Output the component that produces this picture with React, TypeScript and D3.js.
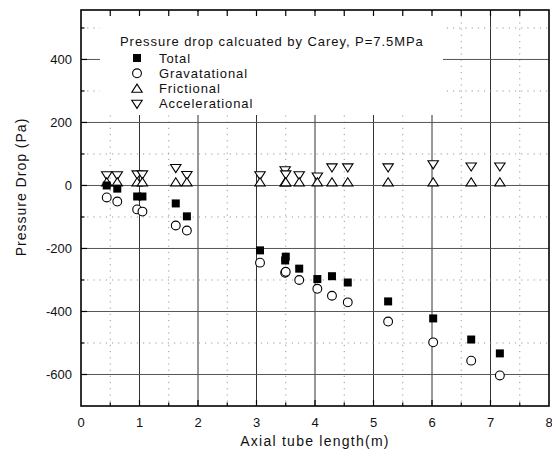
import React from 'react';
import * as d3 from 'd3';

const lengths = [0.44, 0.62, 0.96, 1.05, 1.62, 1.81, 3.06, 3.49, 3.5, 3.73, 4.04, 4.29, 4.56, 5.25, 6.02, 6.67, 7.16];
const total = [0, -10, -35, -35, -57, -98, -206, -238, -226, -264, -297, -288, -308, -368, -422, -489, -533];
const gravitational = [-38, -51, -76, -83, -127, -143, -245, -277, -274, -300, -328, -350, -371, -432, -498, -556, -603];
const frictional = [10, 10, 10, 10, 10, 10, 10, 10, 10, 10, 10, 10, 10, 10, 10, 10, 10];
const accelerational = [32, 32, 35, 35, 55, 33, 32, 48, 35, 32, 28, 57, 57, 57, 67, 60, 60];

const xTicks = [0, 1, 2, 3, 4, 5, 6, 7, 8];
const yTicks = [-600, -400, -200, 0, 200, 400];
const legendTitle = 'Pressure drop calcuated by Carey, P=7.5MPa';
const legendItems = ['Total', 'Gravatational', 'Frictional', 'Accelerational'];

const W = 552, H = 454;
const L = 81, R = 549, T = 10, B = 406;
const font = '"Liberation Sans", Arial, sans-serif';

function Marker({ kind, x, y }: { kind: number; x: number; y: number }) {
  if (kind === 0) return <rect x={x - 4} y={y - 4} width={8} height={8} fill="#000" />;
  if (kind === 1) return <circle cx={x} cy={y} r={4.4} fill="#fff" stroke="#000" strokeWidth={1.1} />;
  if (kind === 2)
    return <path d={`M${x},${y - 4.5}L${x + 5.2},${y + 3.6}L${x - 5.2},${y + 3.6}Z`} fill="#fff" stroke="#000" strokeWidth={1.1} />;
  return <path d={`M${x},${y + 4.5}L${x + 5.2},${y - 3.6}L${x - 5.2},${y - 3.6}Z`} fill="#fff" stroke="#000" strokeWidth={1.1} />;
}

export default function App() {
  const x = d3.scaleLinear().domain([0, 8]).range([L, R]);
  const y = d3.scaleLinear().domain([-700, 557]).range([B, T]);
  const xGrid = d3.range(0.5, 8, 0.5);
  const yGrid = d3.range(-600, 557, 100);
  const series = [total, gravitational, frictional, accelerational];
  const order = [3, 2, 1, 0];
  return (
    <div style={{ position: 'absolute', left: 0, top: 0 }}>
      <svg width={W} height={H} style={{ display: 'block', fontFamily: font }}>
        <rect width={W} height={H} fill="#fff" />
        {xGrid.map((v) => {
          const major = Math.abs(v - Math.round(v)) < 1e-6;
          return (
            <line key={'vx' + v} x1={x(v)} x2={x(v)} y1={T} y2={B}
              stroke={major ? '#333' : '#999'} strokeWidth={1}
              strokeDasharray={major ? undefined : '1.2,5'} />
          );
        })}
        {yGrid.map((v) => {
          const major = v % 200 === 0;
          return (
            <line key={'hy' + v} x1={L} x2={R} y1={y(v)} y2={y(v)}
              stroke={major ? '#555' : '#999'} strokeWidth={1}
              strokeDasharray={major ? undefined : '1.2,5'} />
          );
        })}
        <rect x={100} y={12} width={343} height={103} fill="#fff" />
        {d3.range(0.5, 8, 0.5).map((v) => {
          const major = Math.abs(v - Math.round(v)) < 1e-6;
          return (
            <g key={'t' + v}>
              <line x1={x(v)} x2={x(v)} y1={T} y2={T + 6} stroke="#000" strokeWidth={1.2} />
              <line x1={x(v)} x2={x(v)} y1={B} y2={B - (major ? 6 : 3.5)} stroke="#000" strokeWidth={1.2} />
            </g>
          );
        })}
        {d3.range(-600, 557, 100).map((v) => (
          <line key={'ty' + v} x1={L} x2={L + (v % 200 === 0 ? 6 : 3.5)} y1={y(v)} y2={y(v)} stroke="#000" strokeWidth={1.2} />
        ))}
        <rect x={L} y={T} width={R - L} height={B - T} fill="none" stroke="#000" strokeWidth={1.6} />
        {order.map((k) =>
          lengths.map((lv, i) => <Marker key={k + '-' + i} kind={k} x={x(lv)} y={y(series[k][i])} />)
        )}
        {xTicks.map((v) => (
          <text key={'xl' + v} x={x(v)} y={427} textAnchor="middle" fontSize={13} fill="#111">{v}</text>
        ))}
        {yTicks.map((v) => (
          <text key={'yl' + v} x={72} y={y(v) + 4.5} textAnchor="end" fontSize={13} fill="#111">{v}</text>
        ))}
        <text x={315} y={446} textAnchor="middle" fontSize={14} letterSpacing={1.25} fill="#111">Axial tube length(m)</text>
        <text transform={`translate(26,187) rotate(-90)`} textAnchor="middle" fontSize={14} letterSpacing={1} fill="#111">Pressure Drop (Pa)</text>
        <text x={120} y={46} fontSize={13} letterSpacing={0.95} fill="#111">{legendTitle}</text>
        {legendItems.map((name, i) => (
          <g key={name}>
            <Marker kind={i} x={137} y={58 + i * 15.3} />
            <text x={159} y={62.5 + i * 15.3} fontSize={13} letterSpacing={0.9} fill="#111">{name}</text>
          </g>
        ))}
      </svg>
    </div>
  );
}
